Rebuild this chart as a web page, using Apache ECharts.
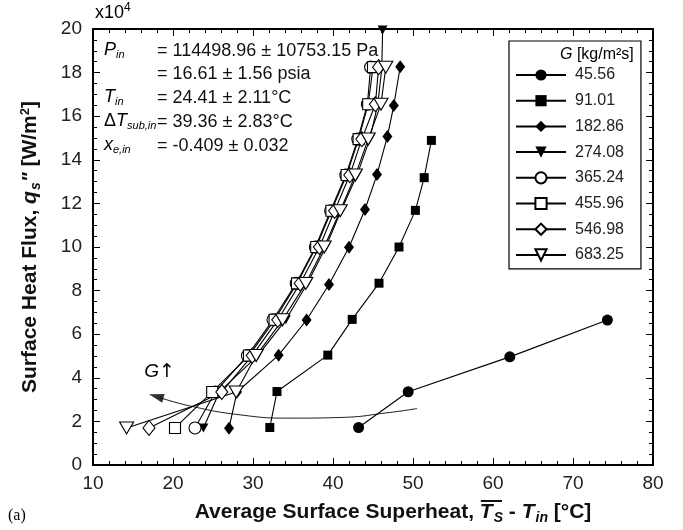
<!DOCTYPE html>
<html><head><meta charset="utf-8">
<script src="https://cdn.jsdelivr.net/npm/echarts@6/dist/echarts.min.js"></script>
<style>html,body{margin:0;padding:0;background:#fff}#c{width:683px;height:530px}</style>
</head><body><div id="c"></div>
<script>
// ---- data ----
const gLabels = ['45.56','91.01','182.86','274.08','365.24','455.96','546.98','683.25'];
const xTicks = [10,20,30,40,50,60,70,80];
const yTicks = [0,2,4,6,8,10,12,14,16,18,20];
const x_45  = [43.2,49.4,62.1,74.3];
const q_45  = [1.72,3.36,4.96,6.65];
const x_91  = [32.1,33.0,39.35,42.4,45.75,48.25,50.3,51.4,52.3];
const q_91  = [1.72,3.37,5.04,6.68,8.34,10.0,11.68,13.18,14.89];
const x_182 = [27.0,28.0,33.2,36.7,39.5,42.0,44.0,45.5,46.8,47.6,48.4];
const q_182 = [1.69,3.35,5.04,6.65,8.28,9.99,11.72,13.32,15.07,16.49,18.27];
const x_274 = [23.8,25.8,30.6,34.1,36.8,39.1,41.0,43.0,44.6,45.6,46.1,46.2];
const q_274 = [1.70,3.35,5.02,6.66,8.33,10.0,11.66,13.3,14.95,16.55,18.2,19.95];
const q_open = [1.70,3.35,5.02,6.66,8.33,10.0,11.66,13.3,14.95,16.55,18.25];
const x_365 = [22.75,25.3,29.3,32.5,35.4,37.8,39.7,41.6,43.1,44.3,44.7];
const x_456 = [20.25,24.9,29.5,32.7,35.5,37.9,39.8,41.7,43.2,44.4,45.0];
const x_547 = [17.0,26.1,29.9,33.1,35.9,38.3,40.2,42.1,43.6,45.3,45.7];
const x_683 = [14.2,27.9,30.4,33.7,36.6,38.9,40.9,42.8,44.4,46.0,46.6];
// G-trend guide curve (drawn right to left, arrow at the left end)
const trendX = [50.5,47.1,40.9,34.6,28.4,22.1,18.3];
const trendQ = [2.59,2.41,2.18,2.15,2.30,2.71,3.10];
const arrowPt = [17.9,3.15];
const gLabelPt = [16.4,4.25];

const FONT = '"Liberation Sans", Arial, Helvetica, sans-serif';
const chart = echarts.init(document.getElementById('c'), null, {renderer:'canvas'});
const downTri = 'path://M0,0 L10,0 L5,9 Z';

function mk(name, xs, qs, symbol, size, filled){
  return {
    type:'line', name, data: xs.map((x,i)=>[x,qs[i]]),
    symbol, symbolSize:size, showAllSymbol:true, clip:false,
    lineStyle:{color:'#000', width:1.1},
    itemStyle:{color: filled ? '#000' : '#fff', borderColor:'#000', borderWidth: filled?0:1.1},
    emphasis:{disabled:true}, z:3
  };
}
const series = [
  {type:'line', name:'trend', data: trendX.map((x,i)=>[x,trendQ[i]]), smooth:0.5, symbol:'none',
   lineStyle:{color:'#000', width:0.9}, z:2, silent:true},
  {type:'scatter', name:'arrow', data:[arrowPt], symbol:'triangle', symbolSize:[9,15], symbolRotate:74,
   itemStyle:{color:'#000'}, z:2, silent:true},
  mk(gLabels[0], x_45, q_45, 'circle', 11, true),
  mk(gLabels[1], x_91, q_91, 'rect', 9, true),
  mk(gLabels[2], x_182, q_182, 'diamond', [10,13], true),
  mk(gLabels[3], x_274, q_274, downTri, [10,9], true),
  mk(gLabels[4], x_365, q_open, 'circle', 12, false),
  mk(gLabels[5], x_456, q_open, 'rect', 11, false),
  mk(gLabels[6], x_547, q_open, 'diamond', [12,15], false),
  mk(gLabels[7], x_683, q_open, downTri, [14,12], false)
];

const TSZ = 21, SUBSZ = 14, XPADL = 40, XGAP = 35;
const axisCommon = {
  type:'value', splitLine:{show:false},
  axisLine:{show:true, onZero:false, lineStyle:{color:'#000', width:2}},
  axisTick:{show:true, inside:true, length:7, lineStyle:{color:'#000', width:1}},
  minorTick:{show:true, length:4, lineStyle:{color:'#000', width:1}}
};
const richAxis = {
  b:{fontWeight:'bold', fontSize:TSZ, fontFamily:FONT, color:'#111'},
  bi:{fontWeight:'bold', fontStyle:'italic', fontSize:TSZ, fontFamily:FONT, color:'#111'},
  bisub:{fontWeight:'bold', fontStyle:'italic', fontSize:SUBSZ, fontFamily:FONT, color:'#111', padding:[11,0,0,1]},
  bsup:{fontWeight:'bold', fontSize:13, fontFamily:FONT, color:'#111', padding:[0,0,11,0]}
};
const option = {
  animation:false,
  textStyle:{fontFamily:FONT},
  grid:{left:93, right:30, top:29, bottom:64},
  xAxis:[
    Object.assign({}, axisCommon, {position:'bottom', min:xTicks[0], max:xTicks[xTicks.length-1], interval:10,
      minorTick:Object.assign({}, axisCommon.minorTick, {splitNumber:5}),
      axisLabel:{fontSize:19, color:'#222', margin:9, fontFamily:FONT},
      name:'{b|Average Surface Superheat, }{bi|T}{bisub|S}{b| - }{bi|T}{bisub|in}{b| [°C]}',
      nameLocation:'middle', nameGap:XGAP,
      nameTextStyle:{rich:richAxis, padding:[0,0,0,XPADL]}}),
    Object.assign({}, axisCommon, {position:'top', min:xTicks[0], max:xTicks[xTicks.length-1], interval:10,
      minorTick:Object.assign({}, axisCommon.minorTick, {splitNumber:5}),
      axisLabel:{show:false}})
  ],
  yAxis:[
    Object.assign({}, axisCommon, {position:'left', min:yTicks[0], max:yTicks[yTicks.length-1], interval:2,
      minorTick:Object.assign({}, axisCommon.minorTick, {splitNumber:4}),
      axisLabel:{fontSize:19, color:'#222', margin:11, fontFamily:FONT},
      name:'{b|Surface Heat Flux, }{bi|q}{bisub|s}{bi|"}{b| [W/m}{bsup|2}{b|]}',
      nameLocation:'middle', nameGap:50, nameRotate:90,
      nameTextStyle:{rich:richAxis}}),
    Object.assign({}, axisCommon, {position:'right', min:yTicks[0], max:yTicks[yTicks.length-1], interval:2,
      minorTick:Object.assign({}, axisCommon.minorTick, {splitNumber:4}),
      axisLabel:{show:false}})
  ],
  legend:{
    data:gLabels, orient:'vertical', left:509, top:41, itemWidth:50, itemHeight:14, itemGap:9.7,
    padding:[26,17,6,6], borderColor:'#000', borderWidth:1.2, backgroundColor:'#fff',
    selectedMode:false, textStyle:{fontSize:16, color:'#222', fontFamily:FONT, padding:[0,0,0,4]}
  },
  series
};
chart.setOption(option);

// measure x-axis title to place the overline over T_S
const ctx = document.createElement('canvas').getContext('2d');
function tw(font, s){ ctx.font = font; return ctx.measureText(s).width; }
const fB = 'bold '+TSZ+'px '+FONT, fBI = 'italic bold '+TSZ+'px '+FONT, fBS = 'italic bold '+SUBSZ+'px '+FONT;
const wPre = tw(fB,'Average Surface Superheat, ');
const wT = tw(fBI,'T'), wS = tw(fBS,'S')+1;
const wTot = wPre + wT + wS + tw(fB,' - ') + wT + tw(fBS,'in')+1 + tw(fB,' [°C]');
const rect = chart.getModel().getComponent('grid',0).coordinateSystem.getRect();
const cx = rect.x + rect.width/2;
const textLeft = cx - (wTot + XPADL)/2 + XPADL;
const olX = textLeft + wPre + 1;
const olY = rect.y + rect.height + XGAP + 1;

// annotations (text), positioned; G-arrow label anchored to data coordinates
const gp = chart.convertToPixel({xAxisIndex:0, yAxisIndex:0}, gLabelPt);
const rt = {
  n:{fontSize:18, fontFamily:FONT, color:'#111'},
  i:{fontSize:18, fontStyle:'italic', fontFamily:FONT, color:'#111'},
  is:{fontSize:11, fontStyle:'italic', fontFamily:FONT, color:'#111', padding:[9,0,0,0]},
  sup:{fontSize:12, fontFamily:FONT, color:'#111', padding:[0,0,10,0]},
  s:{fontSize:16, fontFamily:'"Liberation Serif", "Times New Roman", serif', color:'#111'}
};
const rowsL = ['{i|P}{is|in}','','{i|T}{is|in}','{n|Δ}{i|T}{is|sub,in}','{i|x}{is|e,in}'];
const rowsR = ['= 114498.96 ± 10753.15 Pa','= 16.61 ± 1.56 psia','= 24.41 ± 2.11°C','= 39.36 ± 2.83°C','= -0.409 ± 0.032'];
const rowY = [52,75,99,123,147];
const graphics = [];
rowY.forEach((y,k)=>{
  if(rowsL[k]) graphics.push({type:'text', left:104, top:y-11, z:100, style:{text:rowsL[k], rich:rt}});
  graphics.push({type:'text', left:157, top:y-10, z:100, style:{text:rowsR[k], font:'18px '+FONT, fill:'#111'}});
});
graphics.push({type:'text', left:95, top:2, z:100, style:{text:'{n|x10}{sup|4}', rich:rt}});
graphics.push({type:'text', left:8, top:508, z:100, style:{text:'{s|(a)}', rich:rt}});
graphics.push({type:'text', left:560, top:47, z:100, style:{text:'{i|G}{n| [kg/m²s]}', rich:{
  i:{fontSize:16, fontStyle:'italic', fontFamily:FONT, color:'#111'},
  n:{fontSize:16, fontFamily:FONT, color:'#111'}}}});
graphics.push({type:'text', x:gp[0], y:gp[1]-10, z:100, style:{text:'{i|G}{n|↑}', rich:{
  i:{fontSize:19, fontStyle:'italic', fontFamily:FONT, color:'#111'},
  n:{fontSize:19, fontFamily:'"DejaVu Sans", sans-serif', color:'#111'}}}});
// overline above T_S in the x-axis title
graphics.push({type:'line', z:100, shape:{x1:olX, y1:olY, x2:olX+wT+wS-2, y2:olY}, style:{stroke:'#111', lineWidth:2}});
chart.setOption({graphic:graphics});
</script></body></html>
